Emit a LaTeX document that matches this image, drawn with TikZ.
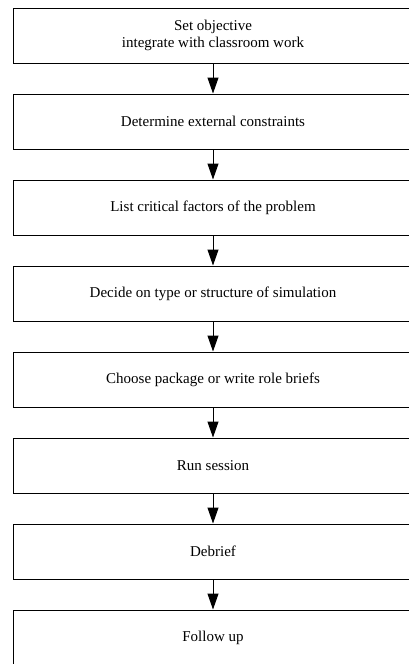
\documentclass[tikz,border=0pt]{standalone}
\usepackage{fontspec}
\setmainfont{Liberation Serif}
\usetikzlibrary{arrows.meta}
\begin{document}
\begin{tikzpicture}[x=1pt,y=-1pt,
  stepbox/.style={draw=black,line width=1pt,minimum width=400pt,minimum height=55pt,
    inner sep=0pt,align=center,font=\fontsize{15}{17}\selectfont},
  flow/.style={line width=1pt,-{Triangle[length=16pt,width=11pt]}}]
\useasboundingbox (0,0) rectangle (409,664);
\clip (0,0) rectangle (409,664);
\fill[white] (0,0) rectangle (409,664);
\node[stepbox] (b1) at (213,35.5) {Set objective\\integrate with classroom work};
\node[stepbox] (b2) at (213,121.5) {Determine external constraints};
\node[stepbox] (b3) at (213,207.5) {List critical factors of the problem};
\node[stepbox] (b4) at (213,293.5) {Decide on type or structure of simulation};
\node[stepbox] (b5) at (213,379.5) {Choose package or write role briefs};
\node[stepbox] (b6) at (213,465.5) {Run session};
\node[stepbox] (b7) at (213,551.5) {Debrief};
\node[stepbox] (b8) at (213,637.5) {Follow up};
\foreach \a/\b in {b1/b2,b2/b3,b3/b4,b4/b5,b5/b6,b6/b7,b7/b8}
  \draw[flow] (\a.south) -- (\b.north);
\end{tikzpicture}
\end{document}
